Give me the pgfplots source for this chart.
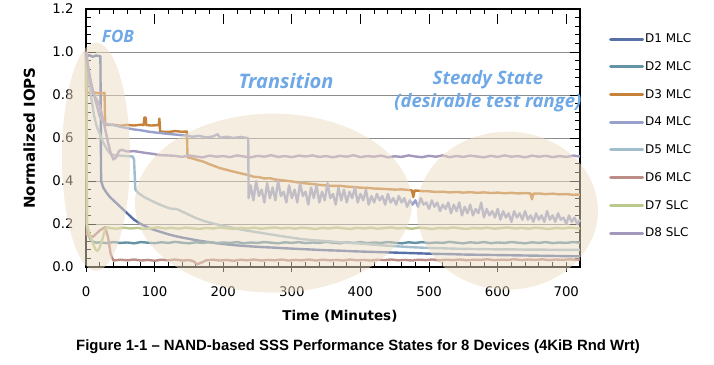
\documentclass[border=0pt]{standalone}
\usepackage{pgfplots}
\pgfplotsset{compat=1.18}
\usepackage{fontspec}
\setmainfont{DejaVu Sans}
\newfontfamily\annfont{Open Sans}
\newfontfamily\capfont{Liberation Sans}
\definecolor{cA}{RGB}{87,112,168}
\definecolor{cB}{RGB}{100,147,166}
\definecolor{cC}{RGB}{198,130,58}
\definecolor{cD}{RGB}{151,161,203}
\definecolor{cE}{RGB}{162,189,205}
\definecolor{cF}{RGB}{188,141,135}
\definecolor{cG}{RGB}{187,201,143}
\definecolor{cH}{RGB}{163,153,189}
\definecolor{ellc}{RGB}{237,220,195}
\definecolor{annc}{RGB}{110,168,230}
\definecolor{gridc}{RGB}{140,140,140}
\begin{document}
\begin{tikzpicture}
\useasboundingbox (0pt,0pt) rectangle (714pt,364pt);
\begin{axis}[
  at={(86pt,97pt)}, anchor=south west,
  scale only axis, width=494pt, height=258pt,
  xmin=0, xmax=720, ymin=0, ymax=1.2,
  clip=false,
  xtick={0,100,200,300,400,500,600,700}, minor x tick num=4,
  ytick={0,0.2,0.4,0.6,0.8,1.0,1.2}, minor y tick num=4,
  yticklabel style={/pgf/number format/fixed, /pgf/number format/fixed zerofill, /pgf/number format/precision=1, xshift=-9pt},
  /pgf/number format/assume math mode=true,
  tick label style={font=\fontsize{13.3}{15}\selectfont},
  xticklabel style={yshift=-16pt},
  ymajorgrids, grid style={gridc, line width=0.8pt},
  axis line style={line width=1.6pt},
  tick align=inside, major tick length=10pt, minor tick length=5pt,
  major x tick style={yshift=-5pt},
  tick style={black, line width=0.8pt},
  xlabel={Time (Minutes)},
  xlabel style={at={(axis description cs:0.514,-0.19)}, anchor=center, font=\bfseries\fontsize{13.5}{15}\selectfont},
  ylabel={Normalized IOPS},
  ylabel style={at={(axis description cs:-0.115,0.5)}, anchor=center, font=\bfseries\fontsize{15}{17}\selectfont},
  legend cell align=left,
  legend style={at={(1.0587,0.908)}, anchor=north west, draw=none, fill=none, inner sep=0pt, row sep=15.3pt,
     font=\fontsize{12}{14}\selectfont, nodes={inner sep=1pt}},
  legend image code/.code={\draw[#1, line width=3pt, line cap=round] (0pt,0pt) -- (32pt,0pt);},
  every axis plot/.append style={line width=2.4pt, line join=round, no markers},
]
% D1 MLC
\addplot[cA] coordinates {(0,0.98)(5,0.985)(10,0.978)(15,0.984)(21,0.98)(22,0.40)(25,0.37)(30,0.345)(35,0.325)(40,0.31)(45,0.295)(50,0.28)(55,0.265)(60,0.25)(65,0.235)(70,0.22)(75,0.21)(80,0.2)(86,0.19)(93,0.18)(100,0.172)(110,0.162)(120,0.152)(130,0.144)(140,0.137)(150,0.131)(160,0.125)(170,0.12)(180,0.115)(190,0.111)(200,0.107)(215,0.102)(230,0.098)(245,0.095)(260,0.092)(275,0.09)(290,0.087)(310,0.084)(330,0.081)(350,0.078)(370,0.076)(390,0.073)(410,0.071)(430,0.069)(450,0.067)(470,0.065)(490,0.063)(510,0.061)(530,0.06)(550,0.058)(570,0.057)(590,0.056)(610,0.055)(630,0.054)(650,0.053)(670,0.052)(690,0.051)(710,0.05)(720,0.05)};
\addlegendentry{D1 MLC}
% D2 MLC
\addplot[cB] coordinates {(0,1.0)(0.5,0.5)(1,0.2)(3,0.16)(6,0.13)(10,0.118)(15,0.113)(20,0.115)(30,0.111)(40,0.116)(50,0.112)(60,0.114)(70,0.11)(80,0.116)(90,0.113)(100,0.111)(110,0.115)(120,0.112)(130,0.117)(140,0.113)(150,0.11)(160,0.115)(170,0.112)(180,0.116)(190,0.111)(200,0.114)(210,0.112)(220,0.116)(230,0.11)(240,0.114)(250,0.112)(260,0.116)(270,0.113)(280,0.11)(290,0.115)(300,0.112)(310,0.116)(320,0.111)(330,0.114)(340,0.112)(350,0.117)(360,0.113)(370,0.11)(380,0.115)(390,0.112)(400,0.116)(410,0.111)(420,0.114)(430,0.112)(440,0.116)(450,0.113)(460,0.11)(470,0.115)(480,0.112)(490,0.116)(500,0.111)(510,0.114)(520,0.112)(530,0.117)(540,0.113)(550,0.11)(560,0.115)(570,0.112)(580,0.116)(590,0.111)(600,0.114)(610,0.112)(620,0.116)(630,0.113)(640,0.11)(650,0.115)(660,0.112)(670,0.116)(680,0.111)(690,0.114)(700,0.112)(710,0.116)(720,0.113)};
\addlegendentry{D2 MLC}
% D3 MLC
\addplot[cC] coordinates {(0,1.0)(1.5,0.81)(10,0.812)(20,0.808)(27,0.81)(28,0.66)(40,0.662)(50,0.657)(60,0.661)(70,0.658)(80,0.662)(84,0.66)(85,0.695)(87,0.695)(88,0.66)(95,0.658)(106,0.66)(107,0.69)(108,0.63)(120,0.628)(130,0.632)(140,0.629)(147,0.63)(148,0.51)(155,0.505)(163,0.497)(171,0.49)(180,0.478)(187,0.47)(195,0.46)(205,0.452)(212,0.446)(220,0.44)(230,0.432)(237,0.428)(244,0.42)(252,0.418)(260,0.412)(268,0.413)(276,0.407)(284,0.404)(292,0.401)(300,0.398)(310,0.393)(320,0.389)(330,0.386)(340,0.382)(351,0.379)(360,0.377)(370,0.378)(380,0.374)(390,0.372)(400,0.369)(410,0.368)(420,0.365)(430,0.364)(440,0.362)(450,0.36)(460,0.361)(470,0.358)(475,0.357)(477,0.325)(479,0.356)(490,0.353)(500,0.352)(510,0.349)(520,0.35)(530,0.347)(540,0.349)(550,0.346)(560,0.348)(570,0.345)(580,0.347)(590,0.344)(600,0.346)(610,0.343)(620,0.345)(630,0.342)(640,0.344)(648,0.342)(650,0.315)(652,0.341)(660,0.342)(670,0.339)(680,0.341)(690,0.338)(700,0.339)(710,0.336)(720,0.337)};
\addlegendentry{D3 MLC}
% D4 MLC
\addplot[cD] coordinates {(0,1.0)(3,0.94)(6,0.88)(10,0.82)(15,0.76)(20,0.70)(25,0.675)(30,0.665)(40,0.66)(50,0.652)(60,0.646)(69,0.64)(80,0.636)(90,0.63)(100,0.626)(117,0.62)(130,0.616)(144,0.612)(155,0.606)(165,0.61)(175,0.603)(185,0.607)(192,0.618)(195,0.601)(205,0.606)(215,0.6)(225,0.605)(235,0.6)(236.5,0.6)
(237,0.32)(240,0.38)(244,0.31)(248,0.40)(252,0.33)(256,0.36)(260,0.30)(264,0.39)(268,0.32)(272,0.37)(276,0.31)(280,0.40)(284,0.33)(288,0.35)(292,0.30)(296,0.38)(300,0.32)(304,0.36)(308,0.30)(312,0.39)(316,0.33)(320,0.35)(324,0.29)(328,0.37)(332,0.32)(336,0.38)(340,0.30)(344,0.35)(348,0.31)(352,0.39)(356,0.32)(360,0.34)(364,0.29)(368,0.37)(372,0.31)(376,0.36)(380,0.30)(384,0.35)(388,0.32)(392,0.37)(396,0.30)(400,0.34)(404,0.31)(408,0.36)(412,0.29)(416,0.33)(420,0.30)(424,0.34)(428,0.31)(432,0.33)(436,0.29)(440,0.34)(444,0.30)(448,0.32)(452,0.29)(456,0.33)(460,0.30)(464,0.32)(468,0.28)(472,0.31)(476,0.29)(480,0.31)(484,0.28)(488,0.32)(492,0.29)(496,0.30)(500,0.27)(504,0.31)(508,0.28)(512,0.30)(516,0.26)(520,0.29)(524,0.27)(528,0.30)(532,0.25)(536,0.29)(540,0.26)(544,0.30)(548,0.24)(552,0.28)(556,0.25)(560,0.29)(564,0.24)(568,0.27)(572,0.25)(576,0.30)(580,0.23)(584,0.27)(588,0.24)(592,0.26)(596,0.23)(600,0.27)(604,0.22)(608,0.26)(612,0.23)(616,0.25)(620,0.21)(624,0.26)(628,0.23)(632,0.25)(636,0.22)(640,0.26)(644,0.22)(648,0.24)(652,0.21)(656,0.25)(660,0.22)(664,0.24)(668,0.21)(672,0.26)(676,0.22)(680,0.24)(684,0.21)(688,0.25)(692,0.22)(696,0.23)(700,0.20)(704,0.24)(708,0.21)(712,0.23)(716,0.20)(720,0.22)};
\addlegendentry{D4 MLC}
% D5 MLC
\addplot[cE] coordinates {(0,1.0)(3,0.9)(8,0.78)(12,0.7)(16,0.65)(20,0.62)(25,0.58)(30,0.55)(35,0.528)(40,0.52)(50,0.518)(60,0.516)(68,0.514)(70,0.5)(72,0.36)(76,0.345)(85,0.325)(93,0.312)(102,0.298)(110,0.287)(118,0.277)(125,0.27)(132,0.27)(140,0.258)(150,0.243)(160,0.228)(171,0.215)(183,0.204)(195,0.195)(208,0.186)(220,0.178)(233,0.17)(245,0.164)(257,0.158)(268,0.152)(280,0.146)(292,0.14)(305,0.134)(317,0.129)(330,0.125)(343,0.122)(356,0.119)(370,0.115)(385,0.112)(400,0.109)(415,0.105)(430,0.101)(445,0.098)(460,0.095)(475,0.092)(490,0.09)(505,0.088)(520,0.087)(540,0.085)(560,0.084)(580,0.083)(600,0.082)(620,0.082)(640,0.081)(660,0.081)(680,0.08)(700,0.08)(720,0.08)};
\addlegendentry{D5 MLC}
% D6 MLC
\addplot[cF] coordinates {(0,1.0)(0.8,0.5)(1.5,0.15)(5,0.145)(10,0.14)(15,0.155)(20,0.17)(25,0.18)(28,0.185)(32,0.14)(36,0.06)(40,0.03)(50,0.034)(60,0.031)(70,0.035)(80,0.03)(90,0.033)(100,0.029)(110,0.034)(120,0.031)(130,0.035)(140,0.03)(150,0.032)(156,0.028)(162,0.013)(168,0.02)(175,0.031)(185,0.034)(195,0.03)(205,0.033)(215,0.029)(225,0.034)(235,0.031)(245,0.035)(255,0.03)(265,0.033)(275,0.031)(285,0.035)(295,0.03)(305,0.033)(315,0.031)(325,0.035)(335,0.03)(345,0.034)(355,0.031)(365,0.033)(375,0.03)(385,0.035)(395,0.031)(405,0.033)(415,0.03)(425,0.034)(435,0.032)(445,0.035)(455,0.031)(465,0.033)(475,0.03)(485,0.034)(495,0.032)(505,0.035)(515,0.031)(525,0.034)(535,0.032)(545,0.035)(555,0.031)(565,0.034)(575,0.033)(585,0.036)(595,0.032)(605,0.034)(615,0.033)(625,0.036)(635,0.032)(645,0.035)(655,0.033)(665,0.036)(675,0.032)(685,0.035)(695,0.033)(705,0.036)(715,0.033)(720,0.035)};
\addlegendentry{D6 MLC}
% D7 SLC
\addplot[cG] coordinates {(0,1.0)(0.5,0.98)(1,0.5)(1.5,0.19)(3,0.18)(6,0.145)(10,0.11)(14,0.08)(17,0.075)(20,0.09)(24,0.13)(28,0.175)(30,0.185)(35,0.181)(45,0.178)(55,0.183)(65,0.179)(75,0.182)(85,0.177)(95,0.181)(105,0.184)(115,0.179)(125,0.182)(135,0.178)(145,0.183)(155,0.18)(165,0.177)(175,0.182)(185,0.179)(195,0.184)(205,0.18)(215,0.177)(225,0.182)(235,0.179)(245,0.183)(255,0.178)(265,0.181)(275,0.184)(285,0.179)(295,0.182)(305,0.178)(315,0.183)(325,0.18)(335,0.177)(345,0.182)(355,0.179)(365,0.184)(375,0.18)(385,0.177)(395,0.182)(405,0.179)(415,0.183)(425,0.178)(435,0.181)(445,0.184)(455,0.179)(465,0.182)(475,0.178)(485,0.183)(495,0.18)(505,0.177)(515,0.182)(525,0.179)(535,0.184)(545,0.18)(555,0.177)(565,0.182)(575,0.179)(585,0.183)(595,0.178)(605,0.181)(615,0.184)(625,0.179)(635,0.182)(645,0.178)(655,0.183)(665,0.18)(675,0.177)(685,0.182)(695,0.179)(705,0.183)(715,0.18)(720,0.179)};
\addlegendentry{D7 SLC}
% D8 SLC
\addplot[cH] coordinates {(0,1.0)(4,0.9)(8,0.84)(12,0.8)(16,0.775)(20,0.75)(24,0.7)(28,0.64)(32,0.58)(36,0.53)(40,0.50)(44,0.51)(48,0.54)(52,0.545)(60,0.537)(70,0.539)(78,0.535)(88,0.53)(98,0.526)(108,0.52)(118,0.519)(130,0.517)(140,0.512)(150,0.519)(160,0.514)(170,0.51)(180,0.518)(190,0.513)(200,0.516)(210,0.511)(220,0.519)(230,0.514)(240,0.51)(250,0.517)(260,0.513)(270,0.52)(280,0.512)(290,0.516)(300,0.511)(310,0.518)(320,0.514)(330,0.519)(340,0.512)(350,0.516)(360,0.51)(370,0.517)(380,0.513)(390,0.52)(400,0.511)(410,0.516)(420,0.513)(430,0.518)(440,0.51)(450,0.515)(460,0.512)(470,0.519)(480,0.514)(490,0.511)(500,0.517)(510,0.513)(520,0.519)(530,0.511)(540,0.516)(550,0.512)(560,0.518)(570,0.514)(580,0.51)(590,0.517)(600,0.512)(610,0.519)(620,0.513)(630,0.516)(640,0.51)(650,0.518)(660,0.513)(670,0.517)(680,0.511)(690,0.516)(700,0.512)(710,0.518)(720,0.514)};
\addlegendentry{D8 SLC}
% state regions
\fill[ellc, fill opacity=0.5] (axis cs:14.6,0.513) ellipse [x radius=34pt, y radius=114pt];
\fill[ellc, fill opacity=0.5] (axis cs:273.2,0.297) ellipse [x radius=138.5pt, y radius=89.5pt];
\fill[ellc, fill opacity=0.5] (axis cs:614.2,0.262) ellipse [x radius=90.5pt, y radius=79pt];
% annotations
\node[font=\annfont\bfseries\itshape\fontsize{17}{19}\selectfont, text=annc] at (axis cs:46.6,1.071) {FOB};
\node[font=\annfont\bfseries\itshape\fontsize{20}{22}\selectfont, text=annc] at (axis cs:291.5,0.866) {Transition};
\node[font=\annfont\bfseries\itshape\fontsize{18.5}{20}\selectfont, text=annc] at (axis cs:585.8,0.871) {Steady State};
\node[font=\annfont\bfseries\itshape\fontsize{18.5}{20}\selectfont, text=annc] at (axis cs:585.8,0.764) {(desirable test range)};
\end{axis}
\node[font=\capfont\bfseries\fontsize{14.9}{17}\selectfont, anchor=base] at (358pt,14pt) {Figure 1-1 – NAND-based SSS Performance States for 8 Devices (4KiB Rnd Wrt)};
\end{tikzpicture}
\end{document}
